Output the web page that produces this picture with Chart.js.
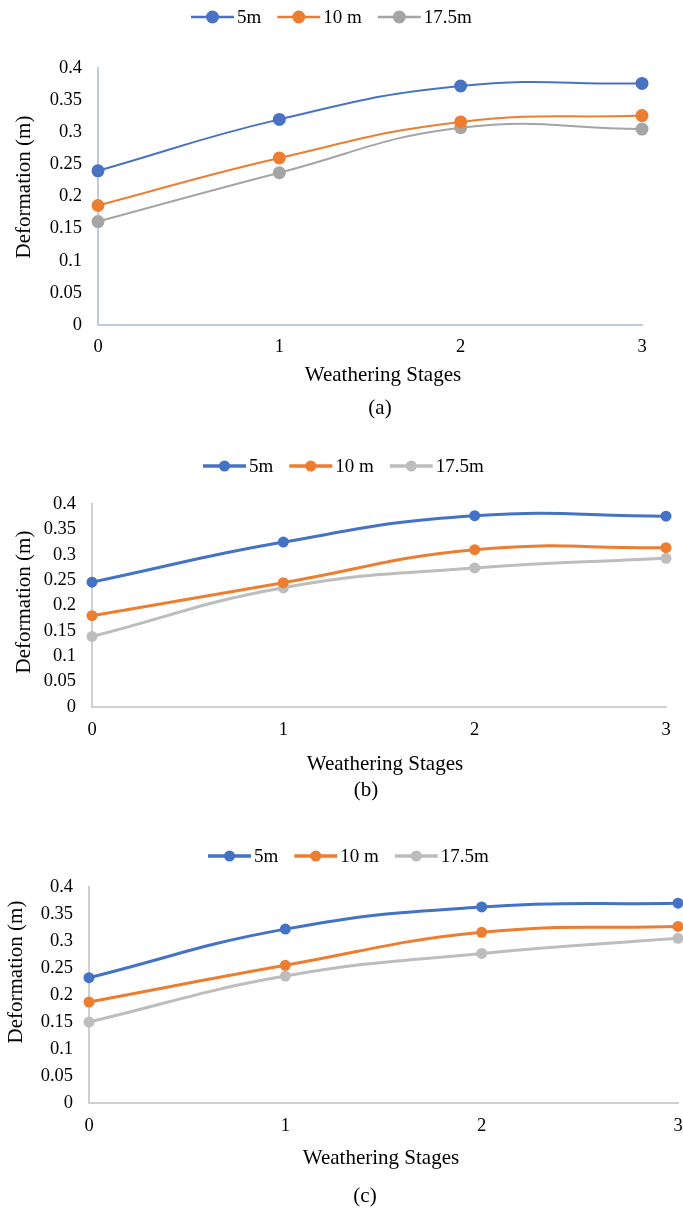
<!DOCTYPE html>
<html>
<head>
<meta charset="utf-8">
<script src="https://cdn.jsdelivr.net/npm/chart.js@4.4.1/dist/chart.umd.min.js"></script>
<style>
    html, body { margin: 0; padding: 0; background: #fff; overflow: hidden; width: 683px; height: 1210px; }
    canvas { position: absolute; left: 0; }
</style>
</head>
<body>
<canvas id="chartA" width="700" height="425" style="top:0px"></canvas>
<canvas id="chartB" width="700" height="380" style="top:430px"></canvas>
<canvas id="chartC" width="700" height="395" style="top:815px"></canvas>
<script>
const stages = ['0', '1', '2', '3'];
const seriesNames = ['5m', '10 m', '17.5m'];
const yTickValues = [0, 0.05, 0.1, 0.15, 0.2, 0.25, 0.3, 0.35, 0.4];
const yTickLabels = ['0', '0.05', '0.1', '0.15', '0.2', '0.25', '0.3', '0.35', '0.4'];

// (a)
const a5m = [0.240, 0.320, 0.372, 0.376];
const a10m = [0.186, 0.260, 0.316, 0.326];
const a17m = [0.161, 0.237, 0.307, 0.305];
// (b)
const b5m = [0.246, 0.325, 0.377, 0.376];
const b10m = [0.180, 0.245, 0.310, 0.314];
const b17m = [0.139, 0.235, 0.274, 0.293];
// (c)
const c5m = [0.232, 0.322, 0.363, 0.370];
const c10m = [0.187, 0.255, 0.316, 0.327];
const c17m = [0.150, 0.235, 0.277, 0.305];

const serif = "'Liberation Serif', 'Times New Roman', serif";
Chart.defaults.font.family = serif;
Chart.defaults.color = '#000';

// legend, axis titles and caption drawn on top of each chart
const textPlugin = {
    id: 'texts',
    afterDraw(chart, args, opts) {
        const ctx = chart.ctx;
        ctx.save();
        ctx.fillStyle = '#000';
        ctx.textBaseline = 'middle';

        // legend
        ctx.font = '19px ' + serif;
        let x = opts.legend.x;
        const y = opts.legend.y;
        chart.data.datasets.forEach(ds => {
            ctx.strokeStyle = ds.borderColor;
            ctx.lineWidth = ds.borderWidth + 0.5;
            ctx.beginPath();
            ctx.moveTo(x, y);
            ctx.lineTo(x + 43, y);
            ctx.stroke();
            ctx.fillStyle = ds.borderColor;
            ctx.beginPath();
            ctx.arc(x + 21.5, y, ds.pointRadius, 0, Math.PI * 2);
            ctx.fill();
            ctx.fillStyle = '#000';
            ctx.textAlign = 'left';
            ctx.fillText(ds.label, x + 46, y + 1);
            x += 46 + ctx.measureText(ds.label).width + 16;
        });

        // axis titles
        ctx.font = '21px ' + serif;
        ctx.textAlign = 'center';
        ctx.fillText('Weathering Stages', opts.xTitle.x, opts.xTitle.y);
        ctx.save();
        ctx.translate(opts.yTitle.x, opts.yTitle.y);
        ctx.rotate(-Math.PI / 2);
        ctx.fillText('Deformation (m)', 0, 0);
        ctx.restore();

        // caption
        ctx.font = '21px ' + serif;
        ctx.fillText(opts.caption.text, opts.caption.x, opts.caption.y);
        ctx.restore();
    }
};

function makeChart(id, data, cfg) {
    const canvas = document.getElementById(id);
    const W = canvas.width, H = canvas.height;
    const xAxisH = 40;
    const datasets = data.map((vals, i) => ({
        label: seriesNames[i],
        data: vals,
        borderColor: cfg.colors[i],
        backgroundColor: cfg.colors[i],
        pointBackgroundColor: cfg.colors[i],
        pointBorderColor: cfg.colors[i],
        borderWidth: cfg.lineWidth,
        pointRadius: cfg.pointRadius,
        pointBorderWidth: 0,
        tension: 0.45,
        clip: false,
    }));
    return new Chart(canvas, {
        type: 'line',
        data: { labels: stages, datasets: datasets },
        options: {
            responsive: false,
            animation: false,
            devicePixelRatio: 1,
            layout: {
                padding: {
                    top: cfg.plot.top,
                    left: 0,
                    right: W - cfg.plot.right,
                    bottom: H - cfg.plot.bottom - xAxisH,
                }
            },
            scales: {
                x: {
                    offset: false,
                    grid: { display: false, drawTicks: false },
                    border: { display: true, color: cfg.axisColor, width: 2 },
                    ticks: { font: { size: 18.5 }, padding: cfg.xTickPad, maxRotation: 0 },
                    afterFit: (scale) => { scale.height = xAxisH; },
                },
                y: {
                    min: 0,
                    max: 0.4,
                    grid: { display: false, drawTicks: false },
                    border: { display: true, color: cfg.axisColor, width: 2 },
                    afterBuildTicks: (scale) => { scale.ticks = yTickValues.map(v => ({ value: v })); },
                    ticks: {
                        font: { size: 18.5 },
                        padding: 16,
                        callback: (v, i) => yTickLabels[i],
                    },
                    afterFit: (scale) => { scale.width = cfg.plot.left; },
                }
            },
            plugins: {
                legend: { display: false },
                tooltip: { enabled: false },
                texts: cfg.texts,
            }
        },
        plugins: [textPlugin]
    });
}

makeChart('chartA', [a5m, a10m, a17m], {
    colors: ['#4a72c2', '#ed7d31', '#a5a5a5'],
    lineWidth: 2,
    pointRadius: 6.5,
    axisColor: '#bfcbe2',
    xTickPad: 11,
    plot: { left: 98, right: 642, top: 68, bottom: 325 },
    texts: {
        legend: { x: 191, y: 17 },
        yTitle: { x: 24, y: 187 },
        xTitle: { x: 383, y: 375 },
        caption: { text: '(a)', x: 380, y: 408 },
    }
});

makeChart('chartB', [b5m, b10m, b17m], {
    colors: ['#4472c4', '#ed7d31', '#bdbdbd'],
    lineWidth: 3,
    pointRadius: 5.5,
    axisColor: '#d0d0d0',
    xTickPad: 12,
    plot: { left: 92, right: 666, top: 74, bottom: 277 },
    texts: {
        legend: { x: 203, y: 36 },
        yTitle: { x: 24, y: 172 },
        xTitle: { x: 385, y: 334 },
        caption: { text: '(b)', x: 366, y: 360 },
    }
});

makeChart('chartC', [c5m, c10m, c17m], {
    colors: ['#4472c4', '#ed7d31', '#bdbdbd'],
    lineWidth: 3,
    pointRadius: 5.5,
    axisColor: '#d0d0d0',
    xTickPad: 12,
    plot: { left: 89, right: 678, top: 72, bottom: 288 },
    texts: {
        legend: { x: 208, y: 41 },
        yTitle: { x: 16, y: 157 },
        xTitle: { x: 381, y: 343 },
        caption: { text: '(c)', x: 365, y: 381 },
    }
});
</script>
</body>
</html>
